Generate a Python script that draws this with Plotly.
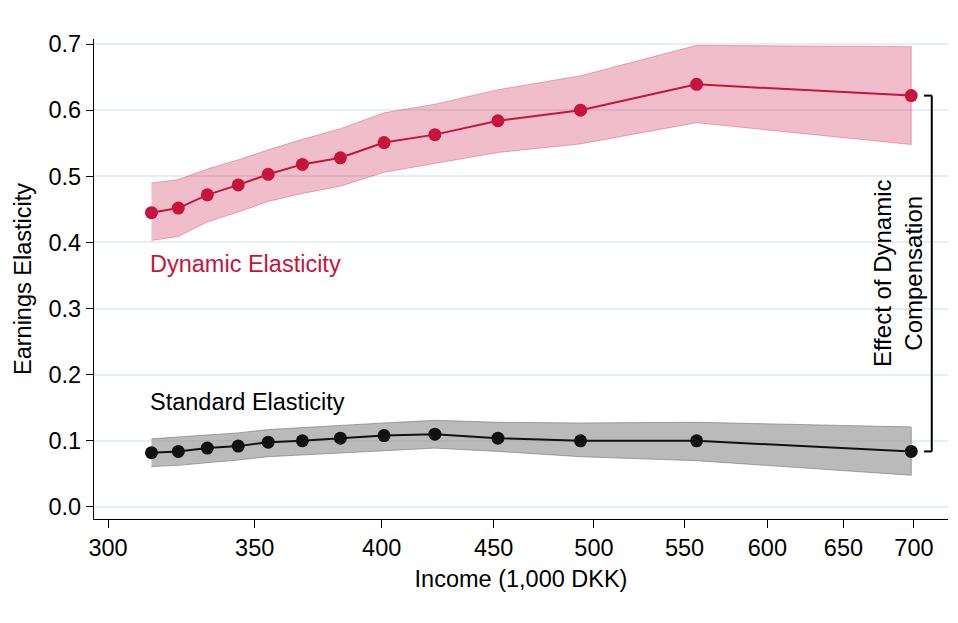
import math
import plotly.graph_objects as go

# ---- data ----
income = [314, 323, 333, 344, 355, 368, 383, 401, 423, 452, 493, 557, 698]
dynamic = [0.445, 0.452, 0.472, 0.487, 0.503, 0.518, 0.528, 0.551, 0.563, 0.584, 0.600, 0.639, 0.622]
dynamic_hi = [0.490, 0.495, 0.511, 0.525, 0.540, 0.556, 0.572, 0.596, 0.609, 0.631, 0.652, 0.698, 0.696]
dynamic_lo = [0.403, 0.409, 0.431, 0.446, 0.462, 0.474, 0.485, 0.506, 0.519, 0.536, 0.549, 0.581, 0.548]
standard = [0.082, 0.084, 0.089, 0.092, 0.098, 0.100, 0.104, 0.108, 0.110, 0.104, 0.100, 0.100, 0.084]
standard_hi = [0.103, 0.106, 0.109, 0.112, 0.117, 0.120, 0.124, 0.127, 0.131, 0.128, 0.127, 0.128, 0.121]
standard_lo = [0.061, 0.063, 0.067, 0.071, 0.076, 0.079, 0.082, 0.085, 0.089, 0.084, 0.076, 0.070, 0.048]
x_ticks = [300, 350, 400, 450, 500, 550, 600, 650, 700]
y_ticks = [0.0, 0.1, 0.2, 0.3, 0.4, 0.5, 0.6, 0.7]

RED = "#c8143c"
FONT = "Liberation Sans, Arial, sans-serif"

fig = go.Figure()

# confidence bands
fig.add_trace(go.Scatter(
    x=income + income[::-1], y=dynamic_hi + dynamic_lo[::-1],
    fill="toself", fillcolor="rgba(205,40,80,0.30)",
    line=dict(color="rgba(205,40,80,0.35)", width=1),
    mode="lines", hoverinfo="skip", showlegend=False))
fig.add_trace(go.Scatter(
    x=income + income[::-1], y=standard_hi + standard_lo[::-1],
    fill="toself", fillcolor="rgba(150,150,150,0.66)",
    line=dict(color="rgba(130,130,130,0.7)", width=1),
    mode="lines", hoverinfo="skip", showlegend=False))

# point estimates
fig.add_trace(go.Scatter(
    x=income, y=dynamic, mode="lines+markers",
    line=dict(color=RED, width=2), marker=dict(color=RED, size=13),
    showlegend=False))
fig.add_trace(go.Scatter(
    x=income, y=standard, mode="lines+markers",
    line=dict(color="#111111", width=2), marker=dict(color="#111111", size=13),
    showlegend=False))

# bracket on the right (paper x, data y)
bx = 0.981
bx0 = 0.972
y_top = dynamic[-1]
y_bot = standard[-1]
line_style = dict(color="black", width=2)
fig.add_shape(type="line", xref="paper", yref="y", x0=bx, x1=bx, y0=y_top, y1=y_bot, line=line_style)
fig.add_shape(type="line", xref="paper", yref="y", x0=bx0, x1=bx, y0=y_top, y1=y_top, line=line_style)
fig.add_shape(type="line", xref="paper", yref="y", x0=bx0, x1=bx, y0=y_bot, y1=y_bot, line=line_style)

fig.add_annotation(
    xref="paper", yref="y", x=0.941, y=(y_top + y_bot) / 2,
    xanchor="center", yanchor="middle",
    text="Effect of Dynamic<br>Compensation", textangle=-90, showarrow=False,
    align="center", font=dict(family=FONT, size=24, color="black"))

fig.add_annotation(
    xref="x", yref="y", x=math.log10(313), y=0.368, xanchor="left", yanchor="middle",
    text="Dynamic Elasticity", showarrow=False,
    font=dict(family=FONT, size=23.5, color=RED))
fig.add_annotation(
    xref="x", yref="y", x=math.log10(313), y=0.159, xanchor="left", yanchor="middle",
    text="Standard Elasticity", showarrow=False,
    font=dict(family=FONT, size=23.5, color="black"))

fig.update_layout(
    width=950, height=615,
    margin=dict(l=86, r=10, t=31, b=104, autoexpand=False),
    paper_bgcolor="white", plot_bgcolor="white",
    font=dict(family=FONT, size=23.5, color="black"),
    xaxis=dict(
        type="log", range=[math.log10(295.6), math.log10(725.5)],
        tickvals=x_ticks, ticktext=[str(v) for v in x_ticks],
        ticks="outside", ticklen=8, tickwidth=1.3, tickcolor="black",
        showline=True, linecolor="black", linewidth=1.3,
        showgrid=False, zeroline=False,
        title=dict(text="Income (1,000 DKK)", font=dict(size=23.5), standoff=10),
        tickfont=dict(size=23.5),
    ),
    yaxis=dict(
        range=[-0.0182, 0.7076],
        tickvals=y_ticks, ticktext=[f"{v:.1f}" for v in y_ticks],
        ticks="outside", ticklen=7, tickwidth=1.3, tickcolor="black",
        showline=True, linecolor="black", linewidth=1.3,
        showgrid=True, gridcolor="#e6eef0", gridwidth=1.5,
        zeroline=False,
        title=dict(text="Earnings Elasticity", font=dict(size=23.5), standoff=10),
        tickfont=dict(size=23.5),
    ),
)

fig.write_html("out.html")
